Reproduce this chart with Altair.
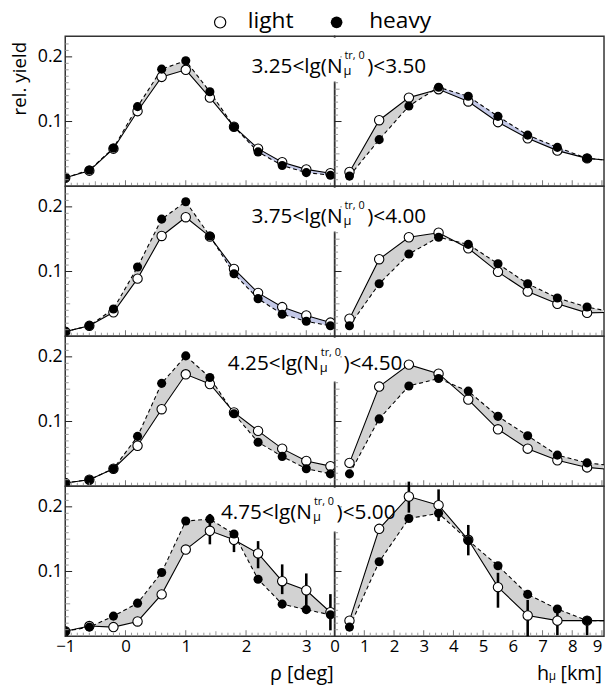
import altair as alt
import pandas as pd

# ---------------- data ----------------
rho = [-1.0, -0.6, -0.2, 0.2, 0.6, 1.0, 1.4, 1.8, 2.2, 2.6, 3.0, 3.4]
hmu = [0.5, 1.5, 2.5, 3.5, 4.5, 5.5, 6.5, 7.5, 8.5, 9.5]   # 9.5 lies beyond the frame

rho_light = [
    [0.013, 0.024, 0.058, 0.116, 0.169, 0.180, 0.137, 0.092, 0.058, 0.037, 0.026, 0.020],
    [0.007, 0.016, 0.037, 0.089, 0.155, 0.184, 0.154, 0.104, 0.067, 0.045, 0.032, 0.021],
    [0.005, 0.010, 0.027, 0.0625, 0.119, 0.173, 0.158, 0.114, 0.0855, 0.058, 0.039, 0.031],
    [0.0076, 0.0156, 0.014, 0.0227, 0.0646, 0.134, 0.163, 0.149, 0.128, 0.085, 0.071, 0.037],
]
rho_heavy = [
    [0.013, 0.025, 0.059, 0.123, 0.181, 0.194, 0.146, 0.092, 0.053, 0.032, 0.021, 0.017],
    [0.007, 0.016, 0.042, 0.107, 0.181, 0.208, 0.155, 0.0965, 0.058, 0.034, 0.023, 0.016],
    [0.005, 0.010, 0.027, 0.077, 0.159, 0.2015, 0.168, 0.112, 0.068, 0.046, 0.027, 0.019],
    [0.0076, 0.014, 0.031, 0.051, 0.0985, 0.178, 0.181, 0.158, 0.088, 0.0495, 0.041, 0.033],
]
h_light = [
    [0.022, 0.102, 0.137, 0.150, 0.131, 0.099, 0.074, 0.055, 0.043, 0.039],
    [0.027, 0.119, 0.153, 0.160, 0.136, 0.0995, 0.069, 0.050, 0.036, 0.037],
    [0.036, 0.154, 0.188, 0.174, 0.134, 0.088, 0.058, 0.040, 0.029, 0.025],
    [0.024, 0.166, 0.216, 0.2026, 0.149, 0.0758, 0.032, 0.024, 0.024, 0.024],
]
h_heavy = [
    [0.0156, 0.072, 0.124, 0.153, 0.139, 0.108, 0.079, 0.060, 0.043, 0.039],
    [0.016, 0.081, 0.127, 0.153, 0.142, 0.112, 0.081, 0.059, 0.045, 0.036],
    [0.019, 0.104, 0.155, 0.1665, 0.147, 0.108, 0.078, 0.048, 0.036, 0.031],
    [0.014, 0.115, 0.182, 0.190, 0.148, 0.109, 0.0646, 0.042, 0.024, 0.024],
]

# error bars (bottom row, light sample)
rho_err_x = [1.4, 1.8, 2.2, 2.6, 3.0, 3.4]
rho_err_lo = [0.142, 0.130, 0.105, 0.065, 0.047, 0.009]
rho_err_hi = [0.189, 0.163, 0.147, 0.111, 0.097, 0.065]
h_err_x = [2.5, 3.5, 4.5, 5.5, 6.5, 7.5, 8.5]
h_err_lo = [0.191, 0.178, 0.125, 0.044, 0.0, 0.0015, 0.0015]
h_err_hi = [0.239, 0.227, 0.172, 0.098, 0.056, 0.043, 0.029]

# where the band between the curves changes from grey to blue
blue_from = {(0, 0): 1.8, (0, 1): 3.5, (1, 0): 1.4}

bin_lo = ["3.25", "3.75", "4.25", "4.75"]
bin_hi = ["3.50", "4.00", "4.50", "5.00"]

rho_ticks = [-1, 0, 1, 2, 3]
h_ticks = [0, 1, 2, 3, 4, 5, 6, 7, 8, 9]
y_ticks = [0.1, 0.2]

# ---------------- layout / style ----------------
W, H = 273, 152
FONT = "Open Sans"
GRAY = "#d2d2d2"
BLUE = "#c3c8e6"
label_start = [188, 188, 164, 157]
label_base = [37, 37, 34, 33]
TITLE_BASE = 196

y_minor = [round(0.01 * i, 2) for i in range(1, 23) if i not in (5, 10, 15, 20)]
y_mid = [0.05, 0.15]
rho_minor = [round(-1 + 0.1 * i, 1) for i in range(1, 45)]
rho_minor = [v for v in rho_minor if abs(v * 2 - round(v * 2)) > 1e-6]
rho_mid = [-0.5, 0.5, 1.5, 2.5]
rho_major = [0, 1, 2, 3]
h_minor = [round(0.2 * i, 1) for i in range(1, 46) if i % 5 != 0]
h_major = [1, 2, 3, 4, 5, 6, 7, 8, 9]


def one(text):
    return pd.DataFrame({"t": [text]})


def text_layer(text, x, y, size, align="left", angle=0, baseline="alphabetic"):
    return alt.Chart(one(text)).mark_text(
        font=FONT, fontSize=size, align=align, baseline=baseline, angle=angle, color="black"
    ).encode(text="t:N", x=alt.value(x), y=alt.value(y))


def panel(row, col):
    if col == 0:
        xs, L, Hh, dom = rho, rho_light[row], rho_heavy[row], [-1, 3.47]
        minor, mid, major, labels = rho_minor, rho_mid, rho_major, rho_ticks
    else:
        xs, L, Hh, dom = hmu, h_light[row], h_heavy[row], [0, 9.07]
        minor, mid, major, labels = h_minor, [], h_major, h_ticks
    df = pd.DataFrame({"x": xs, "light": L, "heavy": Hh})
    xscale = alt.Scale(domain=dom, nice=False, zero=False)
    yscale = alt.Scale(domain=[0, 0.232], nice=False, zero=False)
    if row == 3:
        la = {"condition": {"test": "datum.value >= 9", "value": "right"}, "value": "center"}
        xaxis = alt.Axis(values=labels, format="d", title=None, labelPadding=3,
                         labelAlign=la, labelFontSize=17)
    else:
        xaxis = None
    yaxis = alt.Axis(values=y_ticks, format=".1f", title=None, labelPadding=3,
                     labelFontSize=18) if col == 0 else None

    def X(f):
        return alt.X(f, type="quantitative", scale=xscale, axis=xaxis)

    def Y(f):
        return alt.Y(f, type="quantitative", scale=yscale, axis=yaxis)

    split = blue_from.get((row, col))
    brows = []
    for x, l, h in zip(xs, L, Hh):
        if split is None or x <= split:
            brows.append({"x": x, "light": l, "heavy": h, "seg": "g"})
        if split is not None and x >= split:
            brows.append({"x": x, "light": l, "heavy": h, "seg": "b"})
    bdf = pd.DataFrame(brows)

    band = alt.Chart(bdf).mark_area(clip=True, opacity=1).encode(
        x=X("x"), y=Y("heavy"), y2="light",
        color=alt.Color("seg:N", scale=alt.Scale(domain=["g", "b"], range=[GRAY, BLUE]), legend=None),
    )
    base = alt.Chart(df)
    l_light = base.mark_line(color="black", strokeWidth=1.1, clip=True).encode(x=X("x"), y=Y("light"))
    l_heavy = base.mark_line(color="black", strokeWidth=1.1, strokeDash=[4, 3], clip=True).encode(
        x=X("x"), y=Y("heavy"))
    p_light = base.mark_point(shape="circle", filled=True, fill="white", stroke="black",
                              strokeWidth=1.1, size=90, opacity=1, clip=True).encode(x=X("x"), y=Y("light"))
    p_heavy = base.mark_circle(color="black", size=85, opacity=1, clip=True).encode(x=X("x"), y=Y("heavy"))

    # inward ticks
    yt_minor = alt.Chart(pd.DataFrame({"v": y_minor})).mark_rule(color="#999", strokeWidth=1).encode(
        y=Y("v"), x=alt.value(0), x2=alt.value(3.5))
    yt_mid = alt.Chart(pd.DataFrame({"v": y_mid})).mark_rule(color="#999", strokeWidth=1).encode(
        y=Y("v"), x=alt.value(0), x2=alt.value(5))
    yt_major = alt.Chart(pd.DataFrame({"v": y_ticks})).mark_rule(color="#222", strokeWidth=1).encode(
        y=Y("v"), x=alt.value(0), x2=alt.value(7))
    xt_minor = alt.Chart(pd.DataFrame({"v": minor})).mark_rule(color="#999", strokeWidth=1).encode(
        x=X("v"), y=alt.value(H), y2=alt.value(H - 3.5))
    xt_major = alt.Chart(pd.DataFrame({"v": major})).mark_rule(color="#777", strokeWidth=1).encode(
        x=X("v"), y=alt.value(H), y2=alt.value(H - 6))
    layers = [band, l_light, l_heavy]
    if row == 3:
        if col == 0:
            edf = pd.DataFrame({"x": rho_err_x, "lo": rho_err_lo, "hi": rho_err_hi})
        else:
            edf = pd.DataFrame({"x": h_err_x, "lo": h_err_lo, "hi": h_err_hi})
        err = alt.Chart(edf).mark_rule(color="black", strokeWidth=2.6).encode(
            x=X("x"), y=Y("lo"), y2="hi")
        layers.append(err)
    layers += [p_light, p_heavy, yt_minor, yt_mid, yt_major, xt_minor, xt_major]
    if len(mid):
        layers.append(alt.Chart(pd.DataFrame({"v": mid})).mark_rule(color="#999", strokeWidth=1).encode(
            x=X("v"), y=alt.value(H), y2=alt.value(H - 5)))

    if col == 1:
        # label spanning both panels, with a white patch over the frame line
        s = label_start[row] - 274
        b = label_base[row]
        layers.append(alt.Chart(one("r")).mark_rect(color="white").encode(
            x=alt.value(-3), x2=alt.value(6), y=alt.value(1.5), y2=alt.value(46)))
        layers.append(text_layer(bin_lo[row] + "<lg(N", s + 94, b, 21, align="right"))
        layers.append(text_layer("μ", s + 95, b + 2, 13))
        layers.append(text_layer("tr, 0", s + 96, b - 14, 11))
        layers.append(text_layer(")<" + bin_hi[row], s + 119, b, 21))
        if row == 3:
            layers.append(text_layer("h", 205, TITLE_BASE, 20))
            layers.append(text_layer("μ", 217, TITLE_BASE, 12))
            layers.append(text_layer("[km]", W - 2, TITLE_BASE, 20, align="right"))
    else:
        if row == 0:
            layers.append(alt.Chart(one("o")).mark_point(shape="circle", filled=True, fill="white",
                                                         stroke="black", strokeWidth=1.2, size=130,
                                                         opacity=1).encode(x=alt.value(157), y=alt.value(-14)))
            layers.append(text_layer("light", 185, -8, 23))
            layers.append(alt.Chart(one("f")).mark_circle(color="black", size=140, opacity=1).encode(
                x=alt.value(275), y=alt.value(-14)))
            layers.append(text_layer("heavy", 308, -8, 23))
            layers.append(text_layer("rel. yield", -46, 43, 19, align="center", angle=270,
                                     baseline="middle"))
        if row == 3:
            layers.append(text_layer("ρ [deg]", W - 1, TITLE_BASE, 20, align="right"))

    return alt.layer(*layers).properties(width=W, height=H)


panels = [panel(r, c) for r in range(4) for c in range(2)]

chart = alt.concat(*panels, columns=2, spacing=0, bounds="flush").properties(
    padding={"left": 2, "top": -3, "right": 0, "bottom": 0}
).configure_view(
    stroke="#333", strokeWidth=1.5
).configure_axis(
    labelFont=FONT, labelColor="black", grid=False, domain=False, ticks=False
)

chart.save("out.html", embed_options={"renderer": "svg", "actions": False})
